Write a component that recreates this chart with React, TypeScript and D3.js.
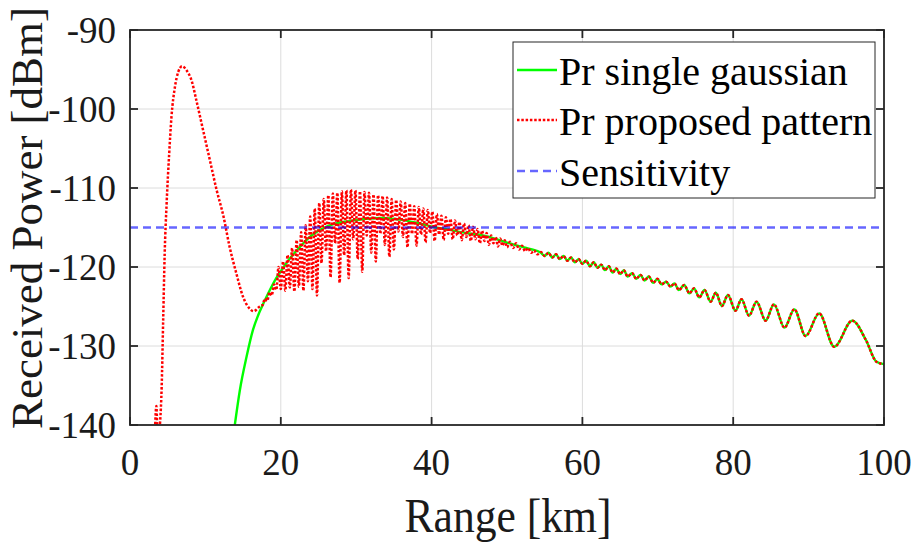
import React from 'react';
import * as d3 from 'd3';

type Pt = [number, number];

const xTicks = [0, 20, 40, 60, 80, 100];
const yTicks = [-140, -130, -120, -110, -100, -90];
const sensitivityLevel = -115;
const legendLabels = ['Pr single gaussian', 'Pr proposed pattern', 'Sensitivity'];
const xLabel = 'Range [km]';
const yLabel = 'Received Power [dBm]';

// single gaussian, smooth rise (km, dBm)
const greenRise: Pt[] = [
  [13.9, -140], [14.57, -135.6], [15.45, -131.4], [16.3, -128.0], [17.0, -126.1],
  [17.7, -124.6], [18.5, -123.0], [19.4, -121.4], [20.1, -120.4], [21.3, -118.8],
  [22.5, -117.5], [23.6, -116.4], [24.7, -115.6], [25.8, -115.0], [26.9, -114.6],
  [29.1, -114.2], [31.4, -113.9], [33.5, -113.8], [35.8, -114.0], [38.0, -114.4],
  [40.1, -114.9], [42.4, -115.3], [44.6, -115.7], [46.8, -116.0], [49.0, -116.6],
  [51.0, -117.2], [53.0, -117.7], [54.5, -118.2],
];

// common tail, both curves overlap (km, dBm)
const tailOsc: Pt[] = [
  [55.0, -118.6], [55.5, -118.2], [56.0, -118.8], [56.5, -118.4], [57.0, -119.0],
  [57.5, -118.6], [58.0, -119.2], [58.5, -118.8], [59.0, -119.4], [59.5, -119.0],
  [60.0, -119.6], [60.5, -119.2], [61.0, -119.9], [61.5, -119.4], [62.0, -120.1],
  [62.5, -119.7], [63.0, -120.4], [63.5, -119.9], [64.0, -120.7], [64.5, -120.2],
  [65.0, -120.9], [65.5, -120.4], [66.0, -121.2], [66.6, -120.8], [67.15, -121.5],
  [67.7, -121.0], [68.25, -121.7], [68.8, -121.2], [69.4, -122.0], [69.95, -121.5],
  [70.5, -122.2], [71.1, -121.86], [71.7, -122.49], [72.2, -122.07], [72.8, -122.91],
  [73.5, -122.28], [74.2, -123.33], [74.8, -122.7], [75.5, -123.84], [76.2, -122.91],
  [77.0, -124.39], [77.7, -123.25], [78.5, -124.94], [79.3, -123.54], [80.3, -125.53],
  [81.1, -124.09], [82.1, -126.16], [83.1, -124.39], [84.3, -126.79], [85.4, -124.73],
  [86.8, -127.68], [88.1, -125.36], [89.6, -128.73], [91.4, -125.87], [93.4, -130.09],
  [95.8, -126.79], [97.6, -129.24], [99.0, -132.0], [100, -132.3],
];

// proposed pattern, near range (km, dBm)
const redNear: Pt[] = [
  [3.3, -141], [3.5, -137.6], [3.65, -141], [3.85, -141], [4.0, -139.5],
  [4.2, -135.2], [4.4, -126.7], [4.6, -118.3], [4.86, -111.9], [5.2, -105.6],
  [5.5, -101.0], [5.96, -97.2], [6.4, -95.3], [6.9, -94.6], [7.5, -95.1],
  [8.2, -96.5], [8.8, -98.9], [9.7, -102.7], [10.6, -106.5], [11.5, -110.3],
  [12.4, -113.6], [13.2, -117.4], [14.1, -120.8], [15.0, -123.8], [15.9, -125.3],
  [16.4, -125.6], [17.2, -125.0], [17.6, -124.8], [17.9, -124.0], [18.2, -124.3],
  [18.5, -123.2], [18.8, -123.6], [19.1, -122.2], [19.4, -122.9],
];

// proposed pattern, dense interference region (km, dBm)
const redDense: Pt[] = [
  [19.7, -120.0], [20.0, -122.8], [20.3, -119.3], [20.6, -123.0], [20.9, -118.5],
  [21.2, -122.6], [21.5, -117.6], [21.8, -123.1], [22.1, -116.6], [22.4, -122.5],
  [22.7, -115.6], [23.0, -123.0], [23.3, -114.7], [23.6, -121.8], [23.9, -113.6],
  [24.2, -122.8], [24.5, -112.6], [24.8, -123.6], [25.1, -111.9], [25.4, -119.5],
  [25.7, -111.4], [26.0, -118.0], [26.3, -110.9], [26.6, -121.3], [26.9, -110.7],
  [27.2, -117.0], [27.5, -110.6], [27.8, -122.0], [28.1, -110.4], [28.4, -118.5],
  [28.7, -110.3], [29.0, -121.4], [29.3, -110.2], [29.6, -116.5], [29.9, -110.3],
  [30.2, -119.0], [30.5, -110.4], [30.8, -120.6], [31.1, -110.5], [31.4, -116.0],
  [31.7, -110.6], [32.0, -118.2], [32.3, -110.8], [32.6, -119.3], [32.9, -110.9],
  [33.2, -115.8], [33.5, -111.0], [33.8, -117.2], [34.1, -111.2], [34.4, -118.7],
  [34.7, -111.4], [35.0, -117.8], [35.3, -111.5], [35.6, -115.5], [35.9, -111.7],
  [36.2, -116.2], [36.5, -111.9], [36.8, -117.5], [37.1, -112.0], [37.4, -115.8],
  [37.7, -112.3], [38.0, -117.3], [38.3, -112.4], [38.6, -115.9], [38.9, -112.6],
  [39.2, -116.9], [39.5, -112.8], [39.8, -115.7], [40.1, -113.0], [40.4, -116.7],
  [40.7, -113.3], [41.0, -115.9], [41.3, -113.5], [41.6, -116.6], [41.9, -113.7],
  [42.2, -115.8], [42.5, -113.9], [42.8, -116.5], [43.1, -114.1], [43.4, -116.0],
  [43.7, -114.3], [44.0, -116.6], [44.3, -114.5], [44.6, -116.2], [44.9, -114.7],
  [45.2, -116.7], [45.5, -114.9], [45.8, -116.5], [46.1, -115.2], [46.4, -117.0],
  [46.7, -115.4], [47.0, -116.7], [47.3, -115.7], [47.6, -117.2], [47.9, -116.0],
  [48.2, -117.0], [48.5, -116.2], [48.8, -117.4], [49.1, -116.4], [49.4, -117.3],
  [49.7, -116.6], [50.0, -117.5], [50.4, -116.8], [50.8, -117.6], [51.2, -117.0],
  [51.6, -117.8], [52.0, -117.3], [52.4, -118.0], [52.8, -117.6], [53.2, -118.2],
  [53.6, -117.9], [54.0, -118.4], [54.5, -118.1],
];

const W = 913;
const H = 543;
const M = { left: 130, right: 884, top: 30, bottom: 425 };
const FONT = 'Liberation Serif';
const AXIS = '#262626';

export default function App() {
  const x = d3.scaleLinear().domain([0, 100]).range([M.left, M.right]);
  const y = d3.scaleLinear().domain([-140, -90]).range([M.bottom, M.top]);
  const line = d3
    .line<Pt>()
    .x((d) => x(d[0]))
    .y((d) => y(d[1]))
    .curve(d3.curveMonotoneX);

  const green = greenRise.concat(tailOsc);
  const red = redNear.concat(redDense, tailOsc);
  const tickLen = 8;

  const lx0 = 517;
  const lx1 = 557;
  const rowY = [70, 120, 171];

  return (
    <svg
      width={W}
      height={H}
      viewBox={`0 0 ${W} ${H}`}
      style={{ position: 'absolute', left: 0, top: 0, background: '#fff', fontFamily: FONT }}
    >
      <defs>
        <clipPath id="plot">
          <rect x={M.left} y={M.top} width={M.right - M.left} height={M.bottom - M.top} />
        </clipPath>
      </defs>
      <rect x={0} y={0} width={W} height={H} fill="#fff" />
      {/* grid */}
      {xTicks.slice(1, -1).map((t) => (
        <line key={'gx' + t} x1={x(t)} x2={x(t)} y1={M.top} y2={M.bottom} stroke="#dcdcdc" strokeWidth={1} />
      ))}
      {yTicks.slice(1, -1).map((t) => (
        <line key={'gy' + t} x1={M.left} x2={M.right} y1={y(t)} y2={y(t)} stroke="#dcdcdc" strokeWidth={1} />
      ))}
      <g clipPath="url(#plot)">
        <path d={line(green) || ''} fill="none" stroke="#00ff00" strokeWidth={2.4} />
        <path d={line(red) || ''} fill="none" stroke="#ff0000" strokeWidth={2.5} strokeDasharray="2.5 1.8" />
        <line
          x1={M.left}
          x2={M.right}
          y1={y(sensitivityLevel)}
          y2={y(sensitivityLevel)}
          stroke="#0000ff"
          strokeOpacity={0.6}
          strokeWidth={2.5}
          strokeDasharray="8 5"
        />
      </g>
      {/* box */}
      <rect
        x={M.left}
        y={M.top}
        width={M.right - M.left}
        height={M.bottom - M.top}
        fill="none"
        stroke={AXIS}
        strokeWidth={1.8}
      />
      {xTicks.map((t) => (
        <g key={'tx' + t}>
          <line x1={x(t)} x2={x(t)} y1={M.bottom} y2={M.bottom - tickLen} stroke={AXIS} strokeWidth={1.8} />
          <line x1={x(t)} x2={x(t)} y1={M.top} y2={M.top + tickLen} stroke={AXIS} strokeWidth={1.8} />
          <text x={x(t)} y={475} textAnchor="middle" fontFamily={FONT} fontSize={37} fill="#1a1a1a">
            {t}
          </text>
        </g>
      ))}
      {yTicks.map((t) => (
        <g key={'ty' + t}>
          <line x1={M.left} x2={M.left + tickLen} y1={y(t)} y2={y(t)} stroke={AXIS} strokeWidth={1.8} />
          <line x1={M.right} x2={M.right - tickLen} y1={y(t)} y2={y(t)} stroke={AXIS} strokeWidth={1.8} />
          <text x={116} y={y(t) + 12.5} textAnchor="end" fontFamily={FONT} fontSize={37} fill="#1a1a1a">
            {t}
          </text>
        </g>
      ))}
      <text
        x={508}
        y={532}
        textAnchor="middle"
        fontFamily={FONT}
        fontSize={48}
        textLength={207}
        lengthAdjust="spacingAndGlyphs"
        fill="#1a1a1a"
      >
        {xLabel}
      </text>
      <text
        transform={`translate(42, 218) rotate(-90)`}
        x={0}
        y={0}
        textAnchor="middle"
        fontFamily={FONT}
        fontSize={45}
        textLength={422}
        lengthAdjust="spacingAndGlyphs"
        fill="#1a1a1a"
      >
        {yLabel}
      </text>
      {/* legend */}
      <rect x={513} y={42} width={362} height={156} fill="#fff" stroke={AXIS} strokeWidth={1} />
      <line x1={lx0} x2={lx1} y1={rowY[0]} y2={rowY[0]} stroke="#00ff00" strokeWidth={2.4} />
      <line x1={lx0} x2={lx1} y1={rowY[1]} y2={rowY[1]} stroke="#ff0000" strokeWidth={2.5} strokeDasharray="2.5 1.8" />
      <line
        x1={lx0}
        x2={lx1}
        y1={rowY[2]}
        y2={rowY[2]}
        stroke="#0000ff"
        strokeOpacity={0.6}
        strokeWidth={2.5}
        strokeDasharray="8 5"
      />
      {legendLabels.map((s, i) => (
        <text key={s} x={559} y={rowY[i] + 15} fontFamily={FONT} fontSize={40} fill="#000">
          {s}
        </text>
      ))}
    </svg>
  );
}
